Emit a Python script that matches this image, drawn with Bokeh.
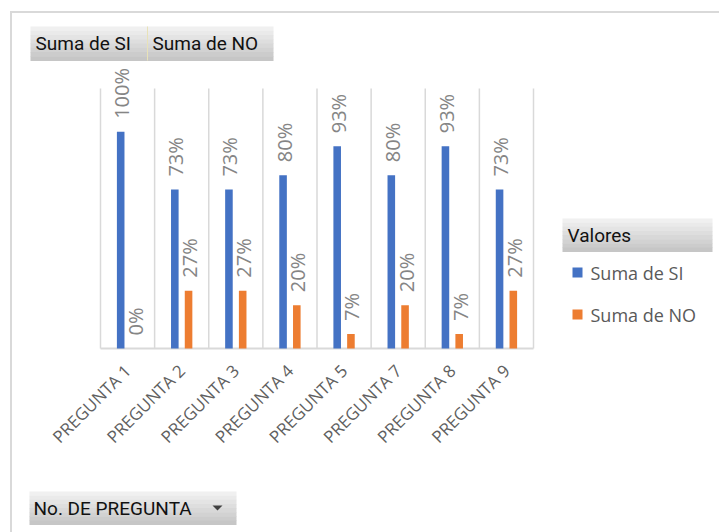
from math import pi
from bokeh.plotting import figure
from bokeh.layouts import column
from bokeh.models import (ColumnDataSource, Range1d, BoxAnnotation, Label, FixedTicker)
from bokeh.embed import file_html
from bokeh.resources import INLINE
from bokeh.core.properties import value

# ---- data ----
categories = ["PREGUNTA 1", "PREGUNTA 2", "PREGUNTA 3", "PREGUNTA 4",
              "PREGUNTA 5", "PREGUNTA 7", "PREGUNTA 8", "PREGUNTA 9"]
suma_si = [1.0, 0.7333, 0.7333, 0.8, 0.9333, 0.8, 0.9333, 0.7333]
suma_no = [0.0, 0.2667, 0.2667, 0.2, 0.0667, 0.2, 0.0667, 0.2667]
series_names = ["Suma de SI", "Suma de NO"]
legend_title = "Valores"
axis_field = "No. DE PREGUNTA"

BLUE = "#4472C4"
ORANGE = "#ED7D31"
GRID = "#d9d9d9"

# ---- layout constants (pixels) ----
W, H = 719, 532
PLOT_L, PLOT_R = 100, 533     # category area
FB = 350                      # frame bottom (baseline 2px above)
GRID_TOP = 1.2                # value where category separators end
UNIT = (348 - 88) / GRID_TOP  # px per 1.0
H1 = 485                      # height of main figure
n = len(categories)
cw = (PLOT_R - PLOT_L) / n

centers = [i + 0.5 for i in range(n)]
OFF = 0.127
BW = 0.14

src = ColumnDataSource(dict(
    xs=[c - OFF for c in centers],
    xn=[c + OFF for c in centers],
    si=suma_si,
    no=suma_no,
    si_lbl=[f"{round(v * 100)}%" for v in suma_si],
    no_lbl=[f"{round(v * 100)}%" for v in suma_no],
))
sep = ColumnDataSource(dict(x=list(range(n + 1)), y0=[0.0] * (n + 1), y1=[GRID_TOP] * (n + 1)))

p = figure(width=W, height=H1,
           x_range=Range1d(-PLOT_L / cw, (W - PLOT_L) / cw),
           y_range=Range1d(-2 / UNIT, (FB - 2) / UNIT),
           output_backend="svg", toolbar_location=None,
           min_border_left=0, min_border_right=0,
           min_border_top=0, min_border_bottom=H1 - FB)
p.outline_line_color = None
p.grid.visible = False
p.yaxis.visible = False
p.background_fill_alpha = 0
p.border_fill_alpha = 0

# category separators and baseline
p.segment(x0="x", x1="x", y0="y0", y1="y1", source=sep, line_color=GRID, line_width=1.5)
p.segment(x0=[0], x1=[n], y0=[0], y1=[0], line_color=GRID, line_width=2)

p.vbar(x="xs", top="si", width=BW, source=src, fill_color=BLUE, line_color=None)
p.vbar(x="xn", top="no", width=BW, source=src, fill_color=ORANGE, line_color=None)

for xcol, col, lbl in (("xs", "si", "si_lbl"), ("xn", "no", "no_lbl")):
    p.text(x=xcol, y=col, text=lbl, source=src,
           angle=pi / 2, text_align="left", text_baseline="middle",
           x_offset=1, y_offset=-13,
           text_font=value("Open Sans"), text_font_size="20px",
           text_color="#858585")

ax = p.xaxis[0]
ax.ticker = FixedTicker(ticks=centers)
ax.major_label_overrides = {c: cat for c, cat in zip(centers, categories)}
ax.axis_line_color = None
ax.major_tick_line_color = None
ax.minor_tick_line_color = None
ax.major_label_orientation = pi / 4
ax.major_label_standoff = 11
ax.major_label_text_font = "Open Sans"
ax.major_label_text_font_size = "17px"
ax.major_label_text_color = "#606060"


# ---- screen-space decorations (reference pixel coords -> frame-relative screen) ----
def sx(X):
    return X


def sy(Y):
    return FB - Y


def box(x0, y0, x1, y1, fill):
    p.add_layout(BoxAnnotation(left=sx(x0), right=sx(x1), top=sy(y0), bottom=sy(y1),
                               left_units="screen", right_units="screen",
                               top_units="screen", bottom_units="screen",
                               fill_color=fill, fill_alpha=1.0, line_color=None))


def shades(steps=8):
    top_c, bot_c = (0xf0, 0xf0, 0xf0), (0xc6, 0xc6, 0xc6)
    out = []
    for i in range(steps):
        t = i / (steps - 1)
        out.append("#%02x%02x%02x" % tuple(round(a + (b - a) * t) for a, b in zip(top_c, bot_c)))
    return out


def button(x0, y0, x1, y1):
    cs = shades()
    h = (y1 - y0) / len(cs)
    for i, c in enumerate(cs):
        box(x0, y0 + i * h, x1, y0 + (i + 1) * h + 0.5, c)


def label(X, Y, text, size, color, font="Roboto"):
    p.add_layout(Label(x=sx(X), y=sy(Y), x_units="screen", y_units="screen", text=text,
                       text_align="left", text_baseline="middle", text_font=font,
                       text_font_size=size, text_color=color))


# field buttons on top
button(30, 26, 273, 60)
box(146.5, 26, 147.5, 60, "#e8e2b8")
label(35, 43, series_names[0], "19px", "#111111")
label(152, 43, series_names[1], "19px", "#111111")

# legend
button(562, 218, 712, 251)
label(567, 235, legend_title, "19px", "#111111")
box(572, 267, 582, 277, BLUE)
box(572, 309, 582, 319, ORANGE)
label(590, 272, series_names[0], "18px", "#595959", font="Open Sans")
label(590, 314, series_names[1], "18px", "#595959", font="Open Sans")

# ---- bottom strip: axis field button ----
p2 = figure(width=W, height=H - H1, x_range=Range1d(0, W), y_range=Range1d(H, H1),
            output_backend="svg", toolbar_location=None,
            min_border_left=0, min_border_right=0, min_border_top=0, min_border_bottom=0)
p2.axis.visible = False
p2.grid.visible = False
p2.outline_line_color = None
p2.background_fill_alpha = 0
p2.border_fill_alpha = 0

bx0, by0, bx1, by1 = 29, 491, 236, 524
cs = shades()
hh = (by1 - by0) / len(cs)
p2.quad(left=[bx0] * len(cs), right=[bx1] * len(cs),
        top=[by0 + i * hh for i in range(len(cs))],
        bottom=[by0 + (i + 1) * hh + 0.5 for i in range(len(cs))],
        fill_color=cs, line_color=None)
p2.text(x=[33], y=[508], text=[axis_field], text_align="left", text_baseline="middle",
        text_font=value("Roboto"), text_font_size="19px", text_color="#111111")
p2.patch(x=[212, 222, 217], y=[505, 505, 510], fill_color="#404040", line_color=None)

layout = column(p, p2, spacing=0, styles={
    "background-color": "white",
    "background-image": "linear-gradient(#d9d9d9, #d9d9d9), linear-gradient(#d9d9d9, #d9d9d9)",
    "background-size": "2px 100%, 100% 2px",
    "background-position": "10px 12px, 10px 11px",
    "background-repeat": "no-repeat",
})

open("out.html", "w").write(file_html(layout, INLINE))
